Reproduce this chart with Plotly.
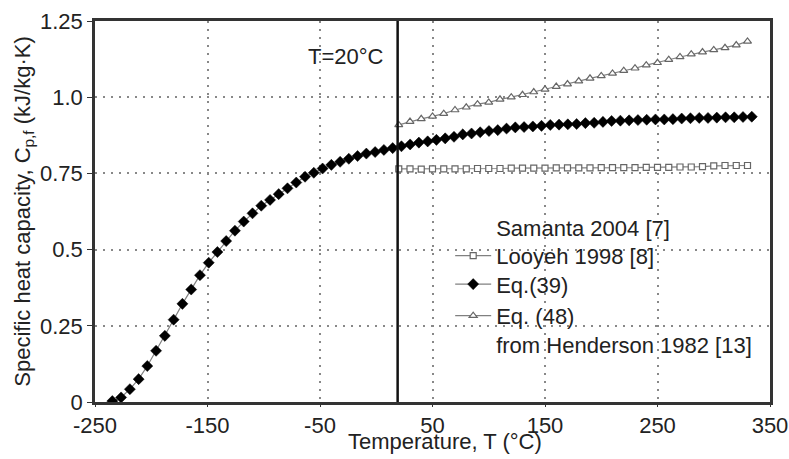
import plotly.graph_objects as go

# ---------------- data ----------------
T39 = [-234.6, -226.8, -219.0, -211.2, -203.5, -195.7, -187.9, -180.1, -172.3, -164.5,
       -156.7, -148.9, -141.2, -133.4, -125.6, -117.8, -110.0, -102.2, -94.4, -86.7,
       -78.9, -71.1, -63.3, -55.5, -47.7, -39.9, -32.1, -24.4, -16.6, -8.8,
       -1.0, 6.8, 14.6, 22.4, 30.1, 37.9, 45.7, 53.5, 61.3, 69.1,
       76.9, 84.7, 92.4, 100.2, 108.0, 115.8, 123.6, 131.4, 139.2, 146.9,
       154.7, 162.5, 170.3, 178.1, 185.9, 193.7, 201.5, 209.2, 217.0, 224.8,
       232.6, 240.4, 248.2, 256.0, 263.7, 271.5, 279.3, 287.1, 294.9, 302.7,
       310.5, 318.2, 326.0, 333.8]
Cp39 = [0.003, 0.015, 0.042, 0.075, 0.118, 0.168, 0.217, 0.270, 0.322, 0.369,
        0.416, 0.457, 0.492, 0.528, 0.562, 0.592, 0.619, 0.644, 0.663, 0.682,
        0.701, 0.720, 0.739, 0.752, 0.766, 0.778, 0.788, 0.798, 0.807, 0.815,
        0.820, 0.827, 0.833, 0.839, 0.845, 0.851, 0.855, 0.860, 0.865, 0.870,
        0.878, 0.881, 0.885, 0.889, 0.892, 0.897, 0.901, 0.902, 0.904, 0.906,
        0.909, 0.910, 0.911, 0.912, 0.915, 0.916, 0.919, 0.922, 0.923, 0.924,
        0.925, 0.926, 0.927, 0.927, 0.928, 0.930, 0.931, 0.932, 0.932, 0.933,
        0.934, 0.934, 0.935, 0.936]

T_hi = [20, 30, 40, 50, 60, 70, 80, 90, 100, 110, 120, 130, 140, 150, 160, 170,
        180, 190, 200, 210, 220, 230, 240, 250, 260, 270, 280, 290, 300, 310, 320, 330]
Cp48 = [0.909, 0.920, 0.929, 0.937, 0.946, 0.958, 0.967, 0.977, 0.983, 0.993, 1.000,
        1.008, 1.017, 1.026, 1.035, 1.043, 1.053, 1.062, 1.070, 1.078, 1.087, 1.095,
        1.105, 1.113, 1.123, 1.132, 1.141, 1.148, 1.155, 1.162, 1.171, 1.183]
CpLooyeh = [0.765, 0.765, 0.764, 0.765, 0.765, 0.765, 0.765, 0.766, 0.766, 0.766, 0.767,
            0.767, 0.767, 0.767, 0.768, 0.768, 0.768, 0.768, 0.769, 0.769, 0.769, 0.769,
            0.770, 0.770, 0.770, 0.771, 0.771, 0.772, 0.775, 0.776, 0.776, 0.776]

T_ref = 19
x_ticks = [-250, -150, -50, 50, 150, 250, 350]
x_ticktext = ["-250", "-150", "-50", "50", "150", "250", "350"]
y_ticks = [0, 0.25, 0.5, 0.75, 1.0, 1.25]
y_ticktext = ["0", "0.25", "0.5", "0.75", "1.0", "1.25"]

FONT = "Arial, Liberation Sans, sans-serif"
FS = 22
TXT = "#222222"
LINE_GREY = "#808080"

fig = go.Figure()

fig.add_trace(go.Scatter(x=T_hi, y=CpLooyeh, mode="lines+markers",
                         name="Samanta 2004 [7]<br>Looyeh 1998 [8]", legend="legend",
                         line=dict(color=LINE_GREY, width=1.2),
                         marker=dict(symbol="square", size=6, color="white",
                                     line=dict(color="#666666", width=1.2))))
fig.add_trace(go.Scatter(x=T39, y=Cp39, mode="lines+markers", name="Eq.(39)",
                         legend="legend2",
                         line=dict(color=LINE_GREY, width=1.2),
                         marker=dict(symbol="diamond", size=8.5, color="black",
                                     line=dict(color="black", width=0.5))))
fig.add_trace(go.Scatter(x=T_hi, y=Cp48, mode="lines+markers",
                         name="Eq. (48)<br>from Henderson 1982 [13]", legend="legend2",
                         line=dict(color=LINE_GREY, width=1.2),
                         marker=dict(symbol="triangle-up", size=7, color="white",
                                     line=dict(color="#666666", width=1.2))))

fig.add_shape(type="line", xref="x", yref="paper", x0=T_ref, x1=T_ref, y0=0, y1=1,
              line=dict(color="#111111", width=2.5))

fig.add_annotation(x=-27, y=1.132, xref="x", yref="y", text="T=20°C", showarrow=False,
                   font=dict(family=FONT, size=FS, color=TXT))

# x-axis title placed as text below the tick labels
fig.add_annotation(x=0.5185, y=-0.1037, xref="paper", yref="paper",
                   text="Temperature, T (°C)", showarrow=False,
                   xanchor="center", yanchor="middle",
                   font=dict(family=FONT, size=FS, color=TXT))

legend_common = dict(xanchor="left", yanchor="top", bgcolor="rgba(0,0,0,0)",
                     borderwidth=0, itemwidth=36,
                     font=dict(family=FONT, size=FS, color=TXT))

fig.update_layout(
    width=789, height=459,
    margin=dict(l=95, r=19, t=21, b=57),
    paper_bgcolor="white", plot_bgcolor="white",
    font=dict(family=FONT, size=FS, color=TXT),
    showlegend=True,
    legend=dict(x=0.5262, y=0.514, valign="bottom", **legend_common),
    legend2=dict(x=0.5262, y=0.364, valign="top", tracegroupgap=0, **legend_common),
    xaxis=dict(range=[-250, 350], tickvals=x_ticks, ticktext=x_ticktext, ticks="outside",
               ticklen=2, tickcolor="#333333", showline=True, linecolor="#333333",
               linewidth=2.5, mirror=True, showgrid=True, gridcolor="#888888",
               gridwidth=1.5, griddash="2px,6px", zeroline=False, automargin=False,
               tickfont=dict(family=FONT, size=FS)),
    yaxis=dict(range=[0, 1.25], tickvals=y_ticks, ticktext=y_ticktext, ticks="outside",
               ticklen=5, tickcolor="#333333", showline=True, linecolor="#333333",
               linewidth=2.5, mirror=True, showgrid=True, gridcolor="#888888",
               gridwidth=1.5, griddash="2px,6px", zeroline=False, automargin=False,
               title=dict(text="Specific heat capacity, C<sub>p,f</sub> (kJ/kg·K)",
                          standoff=4, font=dict(family=FONT, size=FS)),
               tickfont=dict(family=FONT, size=FS)),
)

fig.write_html("out.html")
